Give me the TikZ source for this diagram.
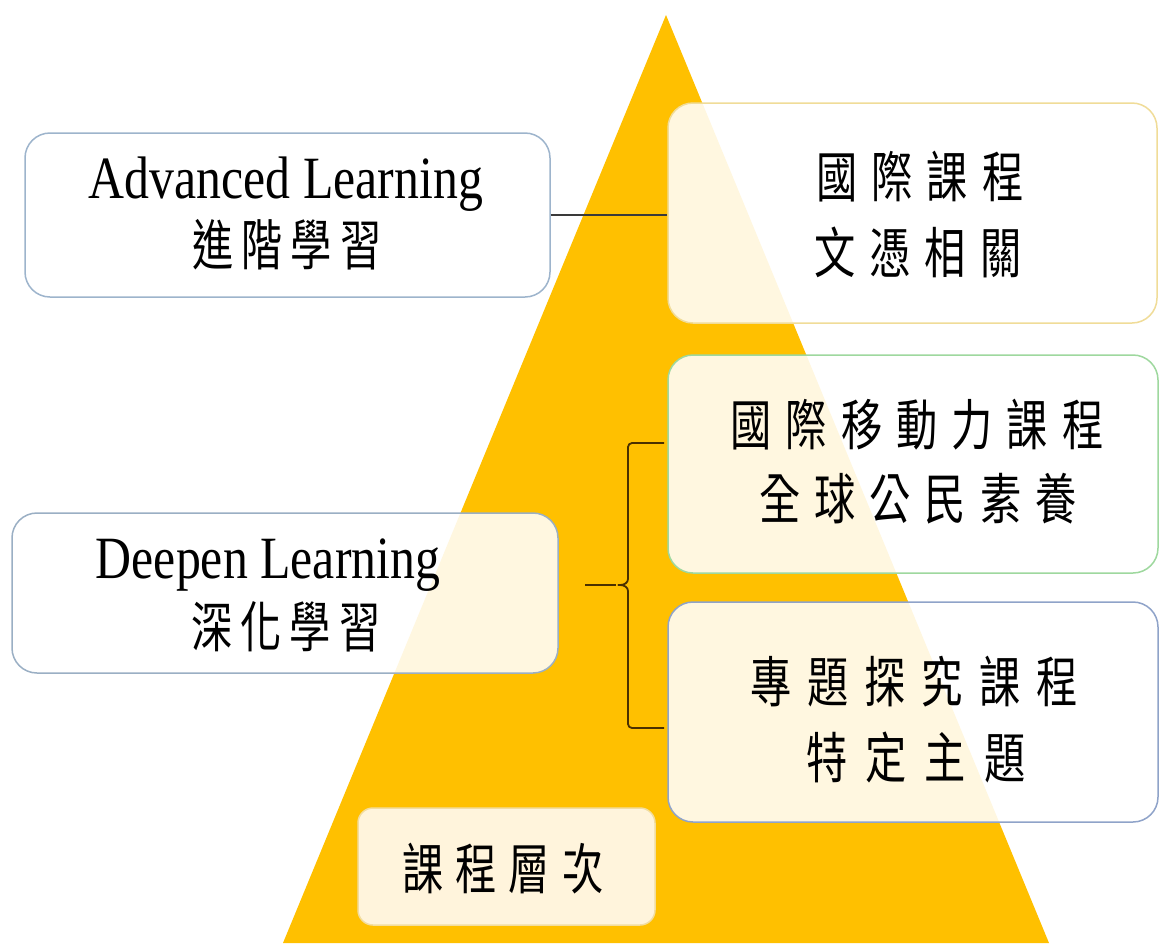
\documentclass[tikz,border=0pt]{standalone}
\usepackage{fontspec}
\setmainfont{Liberation Serif}[FakeStretch=0.83]
\newfontfamily\cjk{Noto Sans CJK TC}[FakeStretch=0.75]
\ExplSyntaxOn
\NewDocumentCommand\spaced{mm}{
  \bool_set_true:N \l_tmpa_bool
  \tl_map_inline:nn {#2}{
    \bool_if:NF \l_tmpa_bool {\kern #1\relax}
    \bool_set_false:N \l_tmpa_bool
    ##1
  }
}
\ExplSyntaxOff
\definecolor{tri}{HTML}{FFC000}
\definecolor{bdA}{HTML}{9DB4CC}
\definecolor{bdB}{HTML}{F0DC98}
\definecolor{bdC}{HTML}{9ED89E}
\definecolor{bdD}{HTML}{8FA3C9}
\definecolor{bdE}{HTML}{9AAFC4}
\definecolor{bdF}{HTML}{F2DDA0}
\definecolor{creamF}{HTML}{FFF7E8}
\definecolor{conn}{HTML}{3A3A3A}
\definecolor{bracec}{HTML}{4A3000}
\tikzset{
  box/.style={rounded corners=25pt, fill=white, fill opacity=0.88, line width=1.5pt, inner sep=0pt},
  lat/.style={font=\fontsize{60}{60}\selectfont, inner sep=0pt, anchor=base},
  cj/.style={font=\cjk\fontsize{55}{55}\selectfont, inner sep=0pt, anchor=base},
  connline/.style={draw=conn, line width=2.5pt},
  bracestyle/.style={draw=bracec, line width=1.8pt, line join=round}
}
\begin{document}
\begin{tikzpicture}[x=1pt,y=-1pt]
\useasboundingbox (0,0) rectangle (1160,946);
\fill[white] (0,0) rectangle (1160,946);
% pyramid
\fill[tri] (666,15) -- (1049,943) -- (283,943) -- cycle;
% boxes
\node[box, draw=bdA, minimum width=525pt, minimum height=164pt] (b1) at (287.5,215) {};
\node[box, draw=bdB, minimum width=489pt, minimum height=220pt] (b2) at (912.5,213) {};
\node[box, draw=bdC, minimum width=490pt, minimum height=218pt] (b3) at (913,464) {};
\node[box, draw=bdD, minimum width=490pt, minimum height=220pt] (b4) at (913,712) {};
\node[box, draw=bdE, minimum width=546pt, minimum height=160pt] (b5) at (285,593) {};
\node[box, rounded corners=15pt, fill=creamF, fill opacity=0.95, draw=bdF, minimum width=297pt, minimum height=117pt] (b6) at (506.5,866.5) {};
% connector
\draw[connline] (b1.east) -- (b1.east -| b2.west);
% brace
\coordinate (bt) at (664,443);
\coordinate (bb) at (664,728);
\coordinate (btip) at (585,585);
\coordinate (bjoin) at (616,585);
\draw[bracestyle, rounded corners=4pt] (bt) -- (628,443) -- (628,575) .. controls (628,583) and (624,585) .. (bjoin) .. controls (624,585) and (628,587) .. (628,595) -- (628,728) -- (bb);
\draw[bracestyle] (bjoin) -- (btip);
% texts
\node[lat] (t1a) at (286,198) {Advanced Learning};
\node[cj] (t1b) at (287,265) {\spaced{8pt}{進階學習}};
\node[cj] (t2a) at (920,197) {\spaced{14pt}{國際課程}};
\node[cj] (t2b) at (918,273) {\spaced{14pt}{文憑相關}};
\node[cj] (t3a) at (917,445) {\spaced{14pt}{國際移動力課程}};
\node[cj] (t3b) at (918,519) {\spaced{14pt}{全球公民素養}};
\node[cj] (t4a) at (914,702) {\spaced{16pt}{專題探究課程}};
\node[cj] (t4b) at (916,778) {\spaced{18pt}{特定主題}};
\node[lat] (t5a) at (268,578) {Deepen Learning};
\node[cj] (t5b) at (286,647) {\spaced{8pt}{深化學習}};
\node[cj] (t6) at (503,889) {\spaced{12pt}{課程層次}};
\end{tikzpicture}
\end{document}
